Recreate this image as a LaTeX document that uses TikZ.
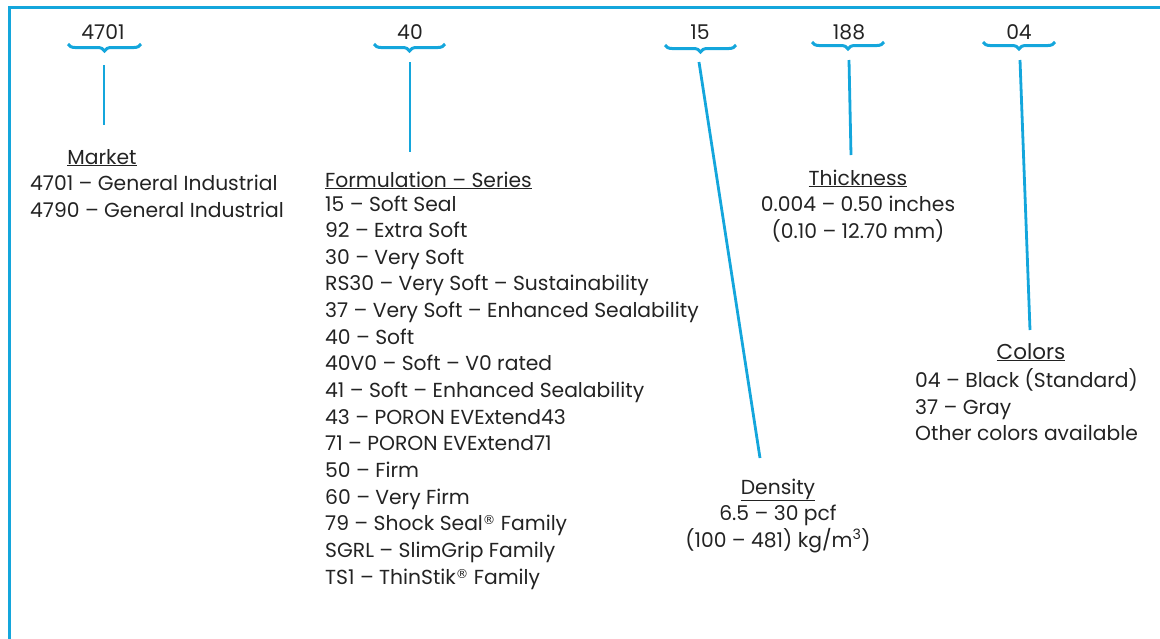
\documentclass[tikz,border=0pt]{standalone}
\usepackage{fontspec}
\setmainfont{Poppins}
\newfontfamily\symfont{DejaVu Sans}
\usetikzlibrary{decorations.pathreplacing}
\definecolor{bl}{RGB}{20,166,220}
\definecolor{tx}{RGB}{35,35,35}
\newcommand{\regm}{\raisebox{0.3em}{\symfont\fontsize{12.5}{12}\selectfont ®}}
\begin{document}
\begin{tikzpicture}[x=1pt,y=-1pt,
  txt/.style={text=tx,font=\fontsize{20.3}{24}\selectfont,inner sep=0pt,anchor=base},
  txtl/.style={txt,anchor=base west},
  brc/.style={draw=bl,line width=3pt,decorate,decoration={brace,mirror,amplitude=7pt}},
  conn/.style={draw=bl,line width=2.8pt},
  framel/.style={draw=bl,line width=3pt}]
\useasboundingbox (0,0) rectangle (1160,638);
% frame (top and left edges)
\coordinate (fa) at (9,640);
\coordinate (fb) at (9,7);
\coordinate (fc) at (1162,7);
\draw[framel] (fa) -- (fb) -- (fc);

% codes
\node[txt] (c1) at (103,39) {4701};
\node[txt] (c2) at (410,39) {40};
\node[txt] (c3) at (700,39) {15};
\node[txt] (c4) at (849,39) {188};
\node[txt] (c5) at (1019,39) {04};

% braces
\coordinate (b1l) at (68,44); \coordinate (b1r) at (141,44);
\coordinate (b2l) at (374,44); \coordinate (b2r) at (445,44);
\coordinate (b3l) at (665,45); \coordinate (b3r) at (736,45);
\coordinate (b4l) at (812,42); \coordinate (b4r) at (884,42);
\coordinate (b5l) at (983,42); \coordinate (b5r) at (1055,42);
\draw[brc] (b1l) -- (b1r);
\draw[brc] (b2l) -- (b2r);
\draw[brc] (b3l) -- (b3r);
\draw[brc] (b4l) -- (b4r);
\draw[brc] (b5l) -- (b5r);

% connectors
\coordinate (s1) at (104,65);  \coordinate (e1) at (104,125);
\coordinate (s2) at (410,62);  \coordinate (e2) at (410,152);
\coordinate (s3) at (699,62);  \coordinate (e3) at (760,458);
\coordinate (s4) at (849,60);  \coordinate (e4) at (851,155);
\coordinate (s5) at (1020,60); \coordinate (e5) at (1030,330);
\draw[conn] (s1) -- (e1);
\draw[conn] (s2) -- (e2);
\draw[conn] (s3) -- (e3);
\draw[conn] (s4) -- (e4);
\draw[conn] (s5) -- (e5);

% Market
\node[txt] (mh) at (102,164) {\underline{Market}};
\node[txtl] (m1) at (30,190) {4701 – General Industrial};
\node[txtl] (m2) at (30,217) {4790 – General Industrial};

% Formulation
\node[txtl] (fh) at (325,187) {\underline{Formulation – Series}};
\foreach \t [count=\i from 0] in {
  15 – Soft Seal,
  92 – Extra Soft,
  30 – Very Soft,
  RS30 – Very Soft – Sustainability,
  37 – Very Soft – Enhanced Sealability,
  40 – Soft,
  40V0 – Soft – V0 rated,
  41 – Soft – Enhanced Sealability,
  43 – PORON EVExtend43,
  71 – PORON EVExtend71,
  50 – Firm,
  60 – Very Firm,
  79 – Shock Seal\regm{} Family,
  SGRL – SlimGrip Family,
  TS1 – ThinStik\regm{} Family}
  \node[txtl] (f\i) at (325,211+26.65*\i) {\t};

% Density
\node[txt] (dh) at (778,494) {\underline{Density}};
\node[txt] (d1) at (778,520) {6.5 – 30 pcf};
\node[txt] (d2) at (778,547) {(100 – 481) kg/m\textsuperscript{3})};

% Thickness
\node[txt] (th) at (858,185) {\underline{Thickness}};
\node[txt] (t1) at (858,211) {0.004 – 0.50 inches};
\node[txt] (t2) at (858,238) {(0.10 – 12.70 mm)};

% Colors
\node[txt,font=\fontsize{21.5}{24}\selectfont] (ch) at (1031,359) {\underline{Colors}};
\node[txtl] (k1) at (915,387) {04 – Black (Standard)};
\node[txtl] (k2) at (915,414) {37 – Gray};
\node[txtl] (k3) at (915,440) {Other colors available};
\end{tikzpicture}
\end{document}
